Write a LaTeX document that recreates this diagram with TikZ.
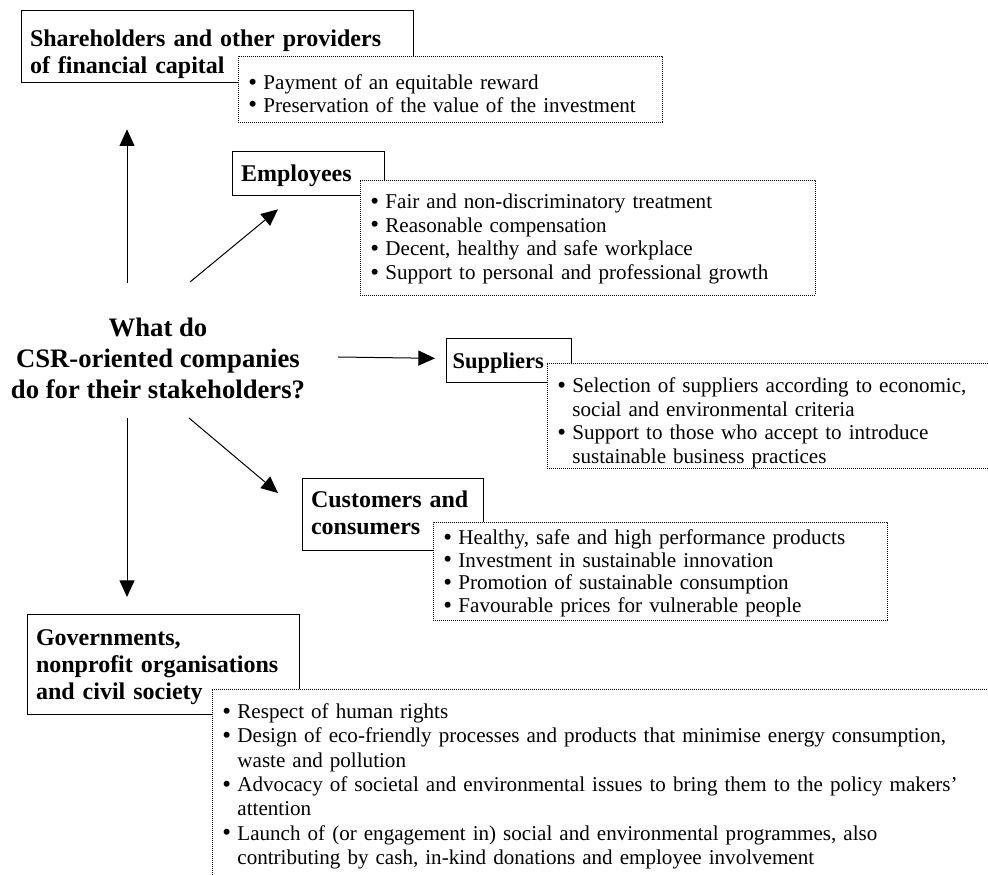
\documentclass[tikz,border=0pt]{standalone}
\usepackage{fontspec}
\setmainfont{Liberation Serif}
\usetikzlibrary{arrows.meta, positioning, calc}

\newcommand{\headfont}{\fontsize{14.4}{16}\selectfont\bfseries}
\newcommand{\listfont}[1]{\fontsize{12.65}{#1}\selectfont}
\newcommand{\litem}[1]{\noindent\hangindent=13pt\hangafter=1%
  \makebox[13pt][l]{\hspace{4pt}\raisebox{-0.4pt}{\fontsize{15}{0}\selectfont\textbullet}}#1\par}
\newcommand{\nl}{\hfil\break}

\begin{document}
\begin{tikzpicture}[
  x=0.6pt, y=-0.6pt,
  headbox/.style={rectangle, draw, line width=0.8pt, fill=white, anchor=north west,
              align=left, font=\headfont, inner xsep=5pt, inner ysep=0pt},
  listbox/.style={rectangle, draw, line width=0.5pt, dash pattern=on 0.6pt off 0.6pt,
              fill=white, anchor=north west, align=left,
              inner xsep=2pt, inner ysep=0pt},
  arrow/.style={-{Triangle[length=10pt, width=9pt]}, line width=0.6pt}
]
\clip (0,0) rectangle (988,875);

\node[align=center, font=\fontsize{16}{18.6}\selectfont\bfseries] (q) at (158,358)
  {What do\\CSR-oriented companies\\do for their stakeholders?};

\node[headbox, text width=225.2pt, text height=21.6pt, text depth=21.6pt] (share) at (21,10)
  {Shareholders and other providers\\of financial capital};
\node[listbox, font=\listfont{13.6pt}, text width=250.4pt, text height=19.8pt, text depth=19.8pt]
  (share-l) at (238,56)
  {\litem{Payment of an equitable reward}
   \litem{Preservation of the value of the investment}};

\node[headbox, text width=81.2pt, text height=18pt, text depth=8.4pt] (emp) at (232,151) {Employees};
\node[listbox, font=\listfont{14.2pt}, text width=269pt, text height=16.8pt, text depth=52.2pt]
  (emp-l) at (360,180)
  {\litem{Fair and non-discriminatory treatment}
   \litem{Reasonable compensation}
   \litem{Decent, healthy and safe workplace}
   \litem{Support to personal and professional growth}};

\node[headbox, font=\fontsize{13.5}{16}\selectfont\bfseries, inner xsep=3.5pt,
  text width=68pt, text height=18pt, text depth=8.4pt] (supp) at (446,338) {Suppliers};
\node[listbox, font=\listfont{14.2pt}, text width=267.8pt, text height=17.4pt, text depth=45.6pt]
  (supp-l) at (547,363)
  {\litem{Selection of suppliers according to economic,\nl social and environmental criteria}
   \litem{Support to those who accept to introduce\nl sustainable business practices}};

\node[headbox, text width=98.6pt, text height=17.4pt, text depth=25.8pt] (cust) at (302,478)
  {Customers and\\consumers};
\node[listbox, font=\listfont{13.6pt}, text width=268.4pt, text height=13.2pt, text depth=45.6pt]
  (cust-l) at (433,522)
  {\litem{Healthy, safe and high performance products}
   \litem{Investment in sustainable innovation}
   \litem{Promotion of sustainable consumption}
   \litem{Favourable prices for vulnerable people}};

\node[headbox, text width=153.2pt, text height=18.6pt, text depth=41.4pt] (gov) at (27,614)
  {Governments,\\nonprofit organisations\\and civil society};
\node[listbox, font=\listfont{14.6pt}, text width=476pt, text height=17.4pt, text depth=109.2pt]
  (gov-l) at (212,689)
  {\litem{Respect of human rights}
   \litem{Design of eco-friendly processes and products that minimise energy consumption,\nl waste and pollution}
   \litem{Advocacy of societal and environmental issues to bring them to the policy makers'\nl attention}
   \litem{Launch of (or engagement in) social and environmental programmes, also\nl contributing by cash, in-kind donations and employee involvement}};

% arrows out of the question
\coordinate (up-s) at (127,283);
\coordinate (emp-s) at (190,282);
\coordinate (supp-s) at (338,357);
\coordinate (cust-s) at (189,418);
\coordinate (gov-s) at (127,418);

\draw[arrow] (up-s) -- ($(share.south west)+(106,46)$);
\draw[arrow] (emp-s) -- ($(emp.south west)+(46,13)$);
\draw[arrow] (supp-s) -- ($(supp.south west)+(-11,-25)$);
\draw[arrow] (cust-s) -- ($(cust.north west)+(-24,15)$);
\draw[arrow] (gov-s) -- ($(gov.north west)+(100,-17)$);
\end{tikzpicture}
\end{document}
